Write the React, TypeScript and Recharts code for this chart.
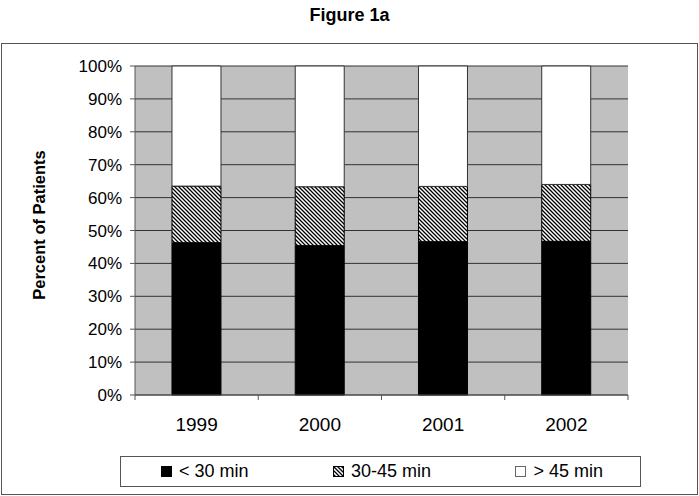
import { Bar, BarChart, CartesianGrid, XAxis, YAxis } from "recharts";

const years = ["1999", "2000", "2001", "2002"];
const under30 = [46.3, 45.4, 46.6, 46.7];
const from30to45 = [17.2, 17.9, 16.8, 17.3];
const over45 = [36.5, 36.7, 36.6, 36.0];
const yTicks = [0, 10, 20, 30, 40, 50, 60, 70, 80, 90, 100];

const data = years.map((year, i) => ({
  year,
  under30: under30[i],
  mid: from30to45[i],
  over45: over45[i],
}));

const FONT = '"Liberation Sans", Arial, sans-serif';
const AXIS = "#555";

function Hatch({ id }: { id: string }) {
  return (
    <pattern id={id} width="4" height="4" patternUnits="userSpaceOnUse">
      <rect width="4" height="4" fill="#fff" />
      <path d="M-1,-1 L5,5 M-1,3 L1,5 M3,-1 L5,1" stroke="#000" strokeWidth="1.3" />
    </pattern>
  );
}

// category labels, with Excel-style tick marks between the categories
function YearTick(props: any) {
  const { x, y, payload, index } = props;
  const half = payload?.offset ?? 61.5;
  const top = y - 23;
  return (
    <g>
      <line x1={x - half} x2={x - half} y1={top} y2={top + 5} stroke={AXIS} />
      {index === years.length - 1 && (
        <line x1={x + half} x2={x + half} y1={top} y2={top + 5} stroke={AXIS} />
      )}
      <text x={x} y={y} dy="0.71em" textAnchor="middle" fontSize={19} fill="#000" fontFamily={FONT}>
        {payload.value}
      </text>
    </g>
  );
}

function LegendIcon({ kind }: { kind: string }) {
  return (
    <svg width={15} height={11} style={{ marginRight: 3 }}>
      <defs>
        <Hatch id="hatchLegend" />
      </defs>
      <rect
        x={0.5}
        y={0.5}
        width={10}
        height={10}
        fill={kind === "black" ? "#000" : kind === "hatch" ? "url(#hatchLegend)" : "#fff"}
        stroke={kind === "white" ? "#666" : "#000"}
      />
    </svg>
  );
}

function LegendBox() {
  const items = [
    { kind: "black", label: "< 30 min" },
    { kind: "hatch", label: "30-45 min" },
    { kind: "white", label: "> 45 min" },
  ];
  return (
    <div
      style={{
        position: "absolute",
        left: 120,
        top: 456,
        boxSizing: "border-box",
        width: 521,
        height: 31,
        border: `1px solid ${AXIS}`,
        display: "flex",
        alignItems: "center",
        justifyContent: "space-between",
        padding: "0 37px 0 40px",
        fontFamily: FONT,
        fontSize: 18,
        color: "#000",
        background: "#fff",
      }}
    >
      {items.map((it) => (
        <span key={it.label} style={{ display: "flex", alignItems: "center" }}>
          <LegendIcon kind={it.kind} />
          {it.label}
        </span>
      ))}
    </div>
  );
}

export default function App() {
  return (
    <div
      style={{
        position: "absolute",
        left: 0,
        top: 0,
        width: 699,
        height: 496,
        background: "#fff",
        fontFamily: FONT,
      }}
    >
      <div
        style={{
          position: "absolute",
          left: 0,
          width: 699,
          top: 5,
          textAlign: "center",
          fontSize: 18,
          fontWeight: "bold",
          color: "#000",
        }}
      >
        Figure 1a
      </div>
      <div
        style={{
          position: "absolute",
          left: 1,
          top: 43,
          width: 695,
          height: 450,
          border: `1px solid ${AXIS}`,
        }}
      />
      <div style={{ position: "absolute", left: 0, top: 0 }}>
        <BarChart
          width={699}
          height={496}
          data={data}
          margin={{ top: 66, right: 71, left: 75, bottom: 61 }}
          barCategoryGap="30%"
        >
          <defs>
            <Hatch id="hatchBar" />
          </defs>
          <CartesianGrid vertical={false} stroke="#333" fill="#c0c0c0" />
          <XAxis
            dataKey="year"
            height={40}
            stroke={AXIS}
            tickLine={false}
            tickSize={0}
            tickMargin={23}
            tick={<YearTick />}
            interval={0}
          />
          <YAxis
            width={60}
            domain={[0, 100]}
            ticks={yTicks}
            interval={0}
            stroke={AXIS}
            tickSize={5}
            tickMargin={8}
            tickFormatter={(v) => `${v}%`}
            tick={{ fill: "#000", fontSize: 17, fontFamily: FONT }}
            label={() => (
              <text
                x={45}
                y={225}
                transform="rotate(-90 45 225)"
                textAnchor="middle"
                fontSize={16.5}
                fontWeight="bold"
                fontFamily={FONT}
                fill="#000"
              >
                Percent of Patients
              </text>
            )}
          />
          <Bar dataKey="under30" name="< 30 min" stackId="a" fill="#000" stroke="#000" isAnimationActive={false} />
          <Bar dataKey="mid" name="30-45 min" stackId="a" fill="url(#hatchBar)" stroke="#000" isAnimationActive={false} />
          <Bar dataKey="over45" name="> 45 min" stackId="a" fill="#fff" stroke="#333" isAnimationActive={false} />
        </BarChart>
      </div>
      <LegendBox />
    </div>
  );
}
